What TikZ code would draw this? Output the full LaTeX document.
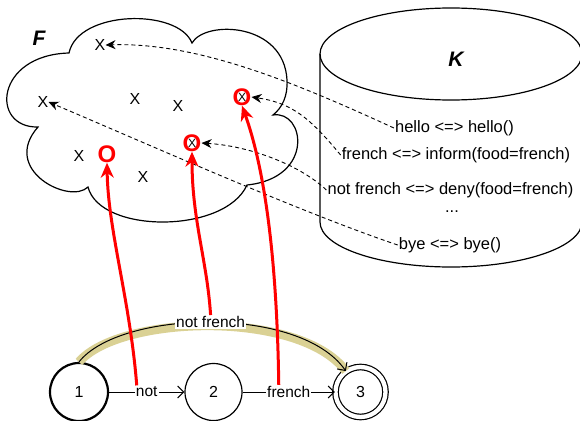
\documentclass[tikz,border=0pt]{standalone}
\usepackage{fontspec}
\setmainfont{Liberation Sans}
\usetikzlibrary{arrows.meta}
\begin{document}
\begin{tikzpicture}[x=1pt,y=-1pt,
  xmark/.style={font=\fontsize{16}{16}\selectfont, inner sep=0pt},
  xsmall/.style={font=\fontsize{12}{12}\selectfont, inner sep=0pt},
  omark/.style={text=red, font=\fontsize{24}{24}\selectfont\bfseries, inner sep=0pt},
  kv/.style={font=\fontsize{16.5}{18}\selectfont, inner sep=1pt},
  biglabel/.style={font=\fontsize{21}{21}\selectfont\bfseries\itshape, inner sep=0pt},
  fsmstate/.style={circle, draw, line width=1.2pt, minimum size=57pt, inner sep=0pt, font=\fontsize{16}{16}\selectfont},
  elabel/.style={fill=white, inner sep=1pt, font=\fontsize{15.5}{16}\selectfont},
  dasharrow/.style={dash pattern=on 4pt off 3pt, line width=0.9pt, -{Stealth[length=10pt,width=9pt]}},
  redarrow/.style={red, line width=3pt, -{Stealth[length=15pt,width=13pt]}},
  fsmedge/.style={line width=1pt, -{Straight Barb[length=6pt,width=12pt]}},
  outline/.style={line width=1.2pt}
]
\useasboundingbox (0,0) rectangle (580,420);
\fill[white] (0,0) rectangle (580,420);

% cloud F
\draw[outline] (69,53) .. controls (78,10) and (178,8) .. (192,43)
  .. controls (205,20) and (284,22) .. (287,80)
  .. controls (288,96) and (282,108) .. (273,115)
  .. controls (305,110) and (315,178) .. (247,185)
  .. controls (225,234) and (100,234) .. (88,187)
  .. controls (70,205) and (0,170) .. (38,127)
  .. controls (-10,128) and (-5,55) .. cycle;
\node[biglabel] (F) at (39,38) {F};

% cylinder K
\draw[outline] (320,54) -- (320,222) arc[start angle=180, end angle=0, x radius=131, y radius=45] -- (582,54);
\draw[outline] (451,54) ellipse[x radius=131, y radius=46];
\node[biglabel] (K) at (456,59) {K};

\node[kv] (thello) at (454.5,128) {hello <=> hello()};
\node[kv] (tfrench) at (456,155) {french <=> inform(food=french)};
\node[kv] (tnot) at (450.5,190) {not french <=> deny(food=french)};
\node[kv] (tdots) at (452,212) {...};
\node[kv] (tbye) at (450,245) {bye <=> bye()};

% marks in F
\node[xmark] (x1) at (100,45) {X};
\node[xmark] (x2) at (43,102) {X};
\node[xmark] (x3) at (135,99) {X};
\node[xmark] (x4) at (178,106) {X};
\node[omark] (o5) at (242,97) {O};
\node[xsmall] (x5) at (242,97) {X};
\node[xmark] (x6) at (79,156) {X};
\node[omark] (o0) at (107,154) {O};
\node[xmark] (x7) at (143,177) {X};
\node[omark] (o8) at (192,143) {O};
\node[xsmall] (x8) at (192,143) {X};

% dashed mappings
\draw[dasharrow] (thello.west) .. controls (300,85) and (200,42) .. (x1.east);
\draw[dasharrow] (tfrench.west) .. controls (310,118) and (292,103) .. (o5.east);
\draw[dasharrow] (tnot.west) .. controls (300,165) and (250,146) .. (o8.east);
\draw[dasharrow] (tbye.west) .. controls (300,212) and (150,145) .. (x2.east);

% automaton
\node[fsmstate, line width=2.2pt, minimum size=58pt] (n1) at (79,392) {1};
\node[fsmstate] (n2) at (213.5,392) {2};
\node[fsmstate, double, double distance=4.3pt, minimum size=50pt] (n3) at (360.5,392) {3};

\draw[line width=9pt, color={rgb,255:red,218;green,209;blue,148}, yshift=-4.6pt]
  (n1.north) .. controls (120,310) and (300,305) .. (n3.125);
\draw[fsmedge] (n1.north) .. controls (120,310) and (300,305) .. node[elabel, pos=0.5] (lnf) {not french} (n3.125);
\draw[fsmedge] (n1) -- node[elabel] (lnot) {not} (n2);
\draw[fsmedge] (n2) -- node[elabel] (lfr) {french} (n3);

% red links
\draw[redarrow] ([xshift=-10pt]lnot.north) .. controls (130,300) and (108,230) .. (o0.south);
\draw[redarrow] (lnf.north) .. controls (207,260) and (192,220) .. (o8.south);
\draw[redarrow] ([xshift=-10pt]lfr.north) .. controls (277,260) and (265,170) .. (o5.south);
\end{tikzpicture}
\end{document}
